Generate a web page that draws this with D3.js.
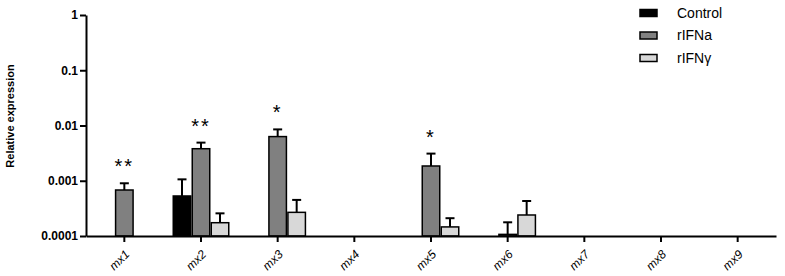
<!DOCTYPE html>
<html>
<head>
<meta charset="utf-8">
<script src="https://cdn.jsdelivr.net/npm/d3@7"></script>
<style>
  body { margin: 0; background: #fff; }
  text { font-family: "Liberation Sans", Arial, sans-serif; }
</style>
</head>
<body>
<div id="chart"></div>
<script>
// genes on the x axis
const genes = ["mx1", "mx2", "mx3", "mx4", "mx5", "mx6", "mx7", "mx8", "mx9"];
const groups = ["Control", "rIFNa", "rIFNγ"];
// mean values (null = no bar)
const control = [null, 0.00053, null, null, null, null, null, null, null];
const rifna   = [0.00068, 0.0038, 0.0063, null, 0.00185, 0.000107, null, null, null];
const rifng   = [null, 0.000174, 0.000268, null, 0.000146, 0.00024, null, null, null];
// top of error bar
const controlErr = [null, 0.00106, null, null, null, null, null, null, null];
const rifnaErr   = [0.0009, 0.0049, 0.0085, null, 0.0031, 0.000177, null, null, null];
const rifngErr   = [null, 0.000257, 0.00045, null, 0.00021, 0.00043, null, null, null];
// significance marks above rIFNa bars
const stars = ["**", "**", "*", "", "*", "", "", "", ""];
const yTicks = [0.0001, 0.001, 0.01, 0.1, 1];

const W = 785, H = 276;
const margin = { top: 15, right: 9, bottom: 40, left: 86 };
const width = W - margin.left - margin.right;
const height = 236 - margin.top;

const colors = { "Control": "#000000", "rIFNa": "#808080", "rIFNγ": "#d8d8d8" };
const vals = { "Control": control, "rIFNa": rifna, "rIFNγ": rifng };
const errs = { "Control": controlErr, "rIFNa": rifnaErr, "rIFNγ": rifngErr };

const svg = d3.select("#chart").append("svg")
  .attr("width", W).attr("height", H);
const g = svg.append("g")
  .attr("transform", "translate(" + margin.left + "," + margin.top + ")");

const x = d3.scaleBand().domain(genes).range([0, width]).padding(0);
const xInner = d3.scaleBand().domain(groups).range([-28.5, 28.5]);
const y = d3.scaleLog().domain([0.0001, 1]).range([height, 0]);

// bars
const bars = [];
genes.forEach((gene, i) => {
  groups.forEach(grp => {
    if (vals[grp][i] != null) bars.push({ gene, grp, v: vals[grp][i], e: errs[grp][i] });
  });
});

const cx = d => x(d.gene) + x.bandwidth() / 2 + xInner(d.grp);

// error bars
const eb = g.append("g").attr("stroke", "#000").attr("stroke-width", 2);
eb.selectAll("line.v").data(bars).enter().append("line")
  .attr("x1", d => cx(d) + xInner.bandwidth() / 2)
  .attr("x2", d => cx(d) + xInner.bandwidth() / 2)
  .attr("y1", d => y(d.v)).attr("y2", d => y(d.e));
eb.selectAll("line.c").data(bars).enter().append("line")
  .attr("x1", d => cx(d) + xInner.bandwidth() / 2 - 4.5)
  .attr("x2", d => cx(d) + xInner.bandwidth() / 2 + 4.5)
  .attr("y1", d => y(d.e)).attr("y2", d => y(d.e));

g.selectAll("rect.bar").data(bars).enter().append("rect")
  .attr("class", "bar")
  .attr("x", d => cx(d) + 0.75)
  .attr("width", xInner.bandwidth() - 1.5)
  .attr("y", d => y(d.v))
  .attr("height", d => height - y(d.v))
  .attr("fill", d => colors[d.grp])
  .attr("stroke", "#000").attr("stroke-width", 1.5);

// stars
g.selectAll("text.star").data(genes).enter().append("text")
  .attr("x", (d, i) => x(d) + x.bandwidth() / 2)
  .attr("y", (d, i) => rifnaErr[i] ? y(rifnaErr[i]) - 10 : 0)
  .attr("text-anchor", "middle")
  .style("font-size", "20px")
  .style("letter-spacing", "2px")
  .text((d, i) => stars[i]);

// y axis
const yAxis = g.append("g")
  .call(d3.axisLeft(y).tickValues(yTicks).tickFormat(d3.format("~g")).tickSize(6).tickSizeOuter(0));
yAxis.select(".domain").attr("stroke-width", 2);
yAxis.selectAll(".tick line").attr("stroke-width", 2);
yAxis.selectAll(".tick text")
  .text(d => d >= 1 ? "1" : d.toFixed(Math.round(-Math.log10(d))))
  .style("font-size", "12px").style("font-weight", "bold").attr("x", -8);

// x axis
const xAxis = g.append("g")
  .attr("transform", "translate(0," + height + ")")
  .call(d3.axisBottom(x).tickSize(6).tickSizeOuter(0));
xAxis.select(".domain").attr("stroke-width", 2);
xAxis.selectAll(".tick line").attr("stroke-width", 2);
xAxis.selectAll(".tick text")
  .style("font-size", "12px").style("font-style", "italic")
  .attr("text-anchor", "end")
  .attr("x", 0).attr("y", 0)
  .attr("dy", "0.35em")
  .attr("transform", "translate(3,16) rotate(-45)");

// y label
svg.append("text")
  .attr("transform", "translate(14,116) rotate(-90)")
  .attr("text-anchor", "middle")
  .style("font-size", "11px").style("font-weight", "bold")
  .text("Relative expression");

// legend
const leg = svg.append("g").attr("transform", "translate(639,13)");
groups.forEach((grp, i) => {
  const row = leg.append("g").attr("transform", "translate(0," + i * 22.5 + ")");
  row.append("rect").attr("x", 1).attr("y", -3.5).attr("width", 17).attr("height", 7)
    .attr("fill", colors[grp]).attr("stroke", "#000").attr("stroke-width", 1.5);
  row.append("text").attr("x", 38).attr("y", 0).attr("dy", "0.35em")
    .style("font-size", "14px").text(grp);
});
</script>
</body>
</html>
